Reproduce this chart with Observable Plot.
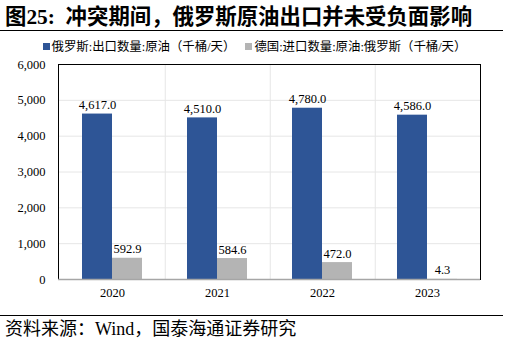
<!DOCTYPE html>
<html><head><meta charset="utf-8">
<script src="https://cdn.jsdelivr.net/npm/d3@7"></script>
<script src="https://cdn.jsdelivr.net/npm/@observablehq/plot@0.6"></script>
<style>
body{margin:0;width:509px;height:342px;position:relative;background:#fff;overflow:hidden;font-family:"Liberation Serif","Noto Sans CJK SC",serif;color:#000;}
#title{position:absolute;left:5px;top:4px;font-size:21.4px;font-weight:bold;line-height:26px;white-space:nowrap;}
#rule1{position:absolute;left:0;width:503px;top:30px;border-top:1.5px solid #000;}
#legend{position:absolute;left:0;width:509px;top:39px;text-align:center;font-size:12.4px;line-height:16px;white-space:nowrap;}
.sw{display:inline-block;width:7px;height:7px;margin-right:2px;vertical-align:1px;}
#chart{position:absolute;left:0;top:52px;}
#rule2{position:absolute;left:0;width:503px;top:315px;border-top:1.5px solid #000;}
#source{position:absolute;left:5px;top:318px;font-size:18px;line-height:22px;white-space:nowrap;}
</style>
</head><body>
<div id="title">图25:&nbsp;&nbsp;冲突期间，俄罗斯原油出口并未受负面影响</div>
<div id="rule1"></div>
<div id="legend"></div>
<div id="chart"></div>
<div id="rule2"></div>
<div id="source">资料来源：Wind，国泰海通证券研究</div>
<script>
const years = ["2020", "2021", "2022", "2023"];
const russiaExport = [4617.0, 4510.0, 4780.0, 4586.0];
const germanyImport = [592.9, 584.6, 472.0, 4.3];
const yTicks = [0, 1000, 2000, 3000, 4000, 5000, 6000];
const seriesNames = ["俄罗斯:出口数量:原油（千桶/天）", "德国:进口数量:原油:俄罗斯（千桶/天）"];
const seriesColors = ["#2E5596", "#B4B4B4"];

const data = years.map((y, i) => ({year: y, russia: russiaExport[i], germany: germanyImport[i]}));

const legend = document.getElementById("legend");
legend.innerHTML = seriesNames.map((n, i) =>
  `<span style="margin:0 5px"><span class="sw" style="background:${seriesColors[i]}"></span>${n}</span>`).join("");

const chart = Plot.plot({
  width: 509,
  height: 253,
  marginLeft: 58,
  marginRight: 29,
  marginTop: 12,
  marginBottom: 26,
  style: {fontFamily: '"Liberation Serif","Noto Sans CJK SC",serif', fontSize: "12.5px", color: "#000", background: "transparent"},
  x: {domain: years, paddingInner: 0.431, paddingOuter: 0.2155, label: null, tickSize: 0, tickPadding: 9},
  y: {domain: [0, 6000], ticks: yTicks, tickFormat: d3.format(","), tickSize: 0, tickPadding: 13, label: null},
  marks: [
    Plot.ruleY(yTicks.slice(1, -1), {stroke: "#e6e6e6", strokeWidth: 1}),
    Plot.ruleX(years.slice(0, 3), {x: d => d, dx: 52.75, stroke: "#e6e6e6", strokeWidth: 1}),
    Plot.barY(data, {x: "year", y: "russia", fill: seriesColors[0], insetRight: 30}),
    Plot.barY(data, {x: "year", y: "germany", fill: seriesColors[1], insetLeft: 30}),
    Plot.text(data, {x: "year", y: "russia", text: d => d3.format(",.1f")(d.russia), dx: -15, dy: -5, lineAnchor: "bottom", fill: "#000"}),
    Plot.text(data, {x: "year", y: "germany", text: d => d3.format(",.1f")(d.germany), dx: 15, dy: -5, lineAnchor: "bottom", fill: "#000"}),
    Plot.frame({stroke: "#000", strokeWidth: 1}),
    Plot.ruleY([0], {stroke: "#a6a6a6", strokeWidth: 1.5})
  ]
});
document.getElementById("chart").appendChild(chart);
</script>
</body></html>
